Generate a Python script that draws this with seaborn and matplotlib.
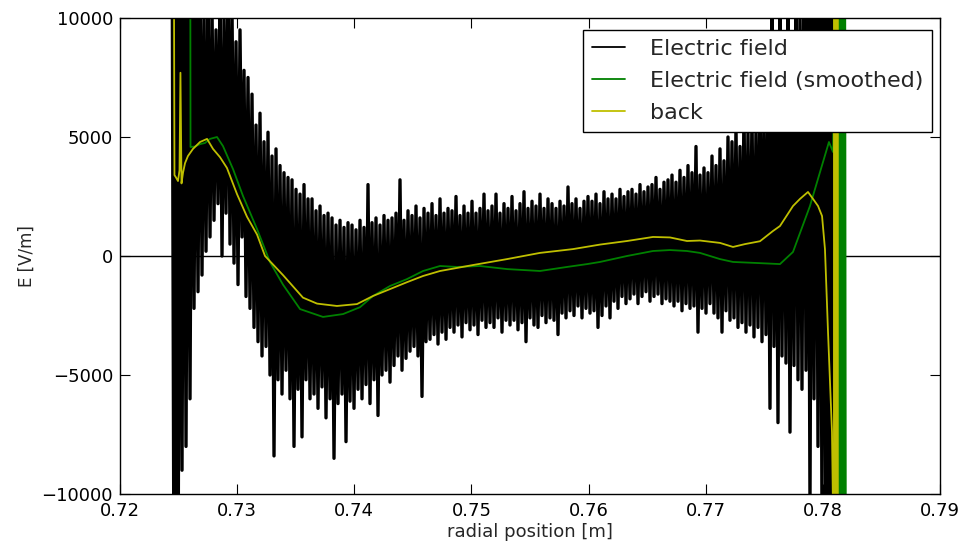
import numpy as np
import pandas as pd
import matplotlib
matplotlib.use("Agg")
import matplotlib.pyplot as plt
import seaborn as sns

# ---------------- data ----------------
field_x_start = 0.72444
field_x_end = 0.78095
field_values = [
    15000, -15000, 15000, -15000, 14000, -9000, 13000, -8000, 12000, -6000,
    12000, -2200, 11000, -1500, 12000, -800, 10500, 200, 11000, 800,
    10500, 1500, 9500, 2200, 11000, 0, 10000, 1800, 12000, 500,
    10500, -300, 9000, -1200, 9500, 800, 7800, -1700, 7500, -2200,
    6800, -3000, 5500, -3600, 6000, -4200, 4800, -3800, 5200, -5000,
    4200, -8400, 4500, -5200, 3800, -5800, 3500, -4800, 3300, -6000,
    3200, -8000, 2800, -5600, 2600, -7600, 3000, -5200, 2400, -6000,
    2400, -5800, 1900, -6400, 2100, -5500, 1700, -6800, 1800, -6000,
    1600, -8500, 1300, -6200, 1500, -5800, 1200, -7800, 1400, -6100,
    1300, -6400, 1100, -5600, 1500, -6000, 1200, -5400, 3000, -6200,
    1400, -5200, 1600, -6700, 1300, -5000, 1700, -4800, 1500, -5300,
    1600, -4600, 1800, -4200, 3200, -4800, 1500, -4300, 1900, -4000,
    1700, -3800, 2100, -4200, 1600, -5900, 2000, -3600, 1800, -3500,
    2200, -3300, 1700, -3700, 2400, -3200, 1800, -3500, 2000, -3000,
    1900, -3200, 2500, -2900, 1700, -3400, 2100, -2800, 1800, -3100,
    2300, -2900, 1800, -3300, 2000, -2700, 2600, -3000, 1900, -2800,
    2100, -3000, 2600, -2600, 1800, -3200, 2200, -2700, 2000, -2900,
    2500, -2700, 1900, -3100, 2200, -2800, 2700, -3600, 2000, -2600,
    2300, -2900, 2100, -3000, 2600, -2500, 2000, -2800, 2400, -2600,
    2200, -2700, 2000, -3300, 2300, -2400, 2100, -2600, 2900, -2300,
    2200, -2500, 2400, -2100, 2000, -2600, 2300, -2200, 2500, -2400,
    2300, -2300, 2600, -3000, 2200, -2500, 2700, -2100, 2400, -2600,
    2600, -1900, 2400, -2200, 2800, -1700, 2500, -2000, 2700, -1800,
    2800, -1600, 2600, -2000, 3000, -1700, 2700, -1500, 2900, -1900,
    3000, -1700, 3300, -1600, 2800, -2000, 3100, -1800, 3200, -1900,
    3400, -2100, 3100, -1900, 3600, -2300, 3300, -2000, 3800, -2200,
    3500, -2100, 4600, -3200, 3400, -2200, 3700, -2400, 3500, -2000,
    4200, -2400, 3800, -2600, 4500, -3200, 4000, -2300, 5000, -2700,
    4800, -2600, 5500, -3000, 4600, -2800, 6200, -3200, 5200, -2900,
    6000, -3400, 5400, -3000, 7000, -3600, 6200, -3300, 6800, -6400,
    11000, -3800, 7500, -7000, 12000, -4200, 8000, -4500, 11000, -7400,
    9000, -4600, 12000, -5200, 10500, -5600, 13000, -4800, 12000, -10500,
    13000, -6000, 14000, -8000, 12000, -11000, 15000, -14000, 15000, -15000,
    15000, -15000,
]

smooth_x = [
    0.72598, 0.72602, 0.72640, 0.72683, 0.72726, 0.72768, 0.72828, 0.72879,
    0.72965, 0.73050, 0.73170, 0.73280, 0.73391, 0.73537, 0.73733, 0.73904,
    0.74049, 0.74160, 0.74305, 0.74450, 0.74587, 0.74732, 0.74877, 0.75073,
    0.75304, 0.75585, 0.75816, 0.75987, 0.76098, 0.76328, 0.76550, 0.76695,
    0.76840, 0.76951, 0.77122, 0.77233, 0.77463, 0.77634, 0.77745, 0.77890,
    0.77976, 0.78052, 0.78087,
    0.78120, 0.78129, 0.78138, 0.78146, 0.78155, 0.78163, 0.78172,
    0.78180, 0.78189, 0.78198,
]
smooth_values = [
    20000, 4580, 4600, 4700, 4750, 4920, 5000, 4620,
    3650, 2520, 1130, -250, -1200, -2230, -2560, -2440,
    -2150, -1680, -1260, -970, -630, -420, -460, -420,
    -550, -630, -460, -340, -250, 0, 210, 250,
    210, 130, -130, -250, -300, -340, 170, 2100,
    3530, 4790, 4370,
    20000, -20000, 20000, -20000, 20000, -20000, 20000,
    -20000, 20000, -20000,
]

back_x = [
    0.72448, 0.72456, 0.72465, 0.72478, 0.72495, 0.72508, 0.72516, 0.72525,
    0.72538, 0.72555, 0.72580, 0.72623, 0.72683, 0.72743, 0.72794, 0.72854,
    0.72913, 0.72999, 0.73084, 0.73170, 0.73238, 0.73391, 0.73562, 0.73682,
    0.73852, 0.74023, 0.74160, 0.74305, 0.74450, 0.74587, 0.74732, 0.75013,
    0.75304, 0.75585, 0.75867, 0.76098, 0.76328, 0.76550, 0.76695, 0.76840,
    0.76951, 0.77122, 0.77233, 0.77335, 0.77463, 0.77574, 0.77634, 0.77745,
    0.77805, 0.77873, 0.77916, 0.77959, 0.77993, 0.78018, 0.78044, 0.78078,
    0.78095,
    0.78099, 0.78103, 0.78108, 0.78112, 0.78116, 0.78120, 0.78125, 0.78129,
]
back_values = [
    20000, 20000, 3400, 3300, 3150, 3600, 7700, 3050,
    3500, 3900, 4200, 4500, 4790, 4920, 4500, 4150,
    3700, 2600, 1650, 900, 0, -800, -1750, -2000,
    -2100, -2020, -1680, -1390, -1100, -840, -630, -380,
    -130, 130, 290, 480, 630, 800, 780, 630,
    650, 550, 380, 500, 620, 1050, 1260, 2100,
    2400, 2690, 2400, 2100, 1680, 290, -3190, -7400,
    -14000,
    20000, -20000, 20000, -20000, 20000, -20000, 20000, -20000,
]

x_ticks = [0.72, 0.73, 0.74, 0.75, 0.76, 0.77, 0.78, 0.79]
x_tick_labels = ["0.72", "0.73", "0.74", "0.75", "0.76", "0.77", "0.78", "0.79"]
y_ticks = [-10000, -5000, 0, 5000, 10000]
y_tick_labels = ["\u221210000", "\u22125000", "0", "5000", "10000"]

series_labels = ["Electric field", "Electric field (smoothed)", "back"]

# ---------------- plot ----------------
sns.set_style("ticks")
plt.rcParams["font.family"] = ["DejaVu Sans"]

fig = plt.figure(figsize=(9.67, 5.46), dpi=100)
ax = fig.add_axes([120 / 967, 1 - 494 / 546, 820 / 967, 476 / 546])

field_x = np.linspace(field_x_start, field_x_end, len(field_values))
df_field = pd.DataFrame({"x": field_x, "E": field_values})
df_smooth = pd.DataFrame({"x": smooth_x, "E": smooth_values})
df_back = pd.DataFrame({"x": back_x, "E": back_values})

sns.lineplot(data=df_field, x="x", y="E", sort=False, estimator=None,
             color="black", linewidth=2.4, label=series_labels[0], ax=ax)
sns.lineplot(data=df_smooth, x="x", y="E", sort=False, estimator=None,
             color="#008000", linewidth=1.3, label=series_labels[1], ax=ax)
sns.lineplot(data=df_back, x="x", y="E", sort=False, estimator=None,
             color="#bfbf00", linewidth=1.3, label=series_labels[2], ax=ax)

ax.axhline(0, color="black", linewidth=1.0, zorder=1)

ax.set_xlim(0.72, 0.79)
ax.set_ylim(-10000, 10000)
ax.set_xticks(x_ticks)
ax.set_xticklabels(x_tick_labels)
ax.set_yticks(y_ticks)
ax.set_yticklabels(y_tick_labels)

for lab in ax.get_xticklabels() + ax.get_yticklabels():
    lab.set_fontsize(13)

ax.tick_params(direction="in", length=7, width=0.8, top=True, right=True,
               colors="black")
ax.tick_params(axis="x", pad=6)
ax.tick_params(axis="y", pad=5)
for sp in ax.spines.values():
    sp.set_visible(True)
    sp.set_color("black")
    sp.set_linewidth(1.0)

ax.set_xlabel("radial position [m]", fontsize=13, labelpad=2)
ax.set_ylabel("E [V/m]", fontsize=12, labelpad=4)

leg = ax.legend(loc="upper right", bbox_to_anchor=(0.990, 0.975),
                borderaxespad=0, fontsize=16, frameon=True, fancybox=False,
                handlelength=1.5, handletextpad=1.1, labelspacing=0.55,
                borderpad=0.4)
leg.get_frame().set_edgecolor("black")
leg.get_frame().set_linewidth(1.0)
leg.get_frame().set_alpha(1.0)
for line in leg.get_lines():
    line.set_linewidth(1.3)

fig.savefig("out.png", dpi=100)
